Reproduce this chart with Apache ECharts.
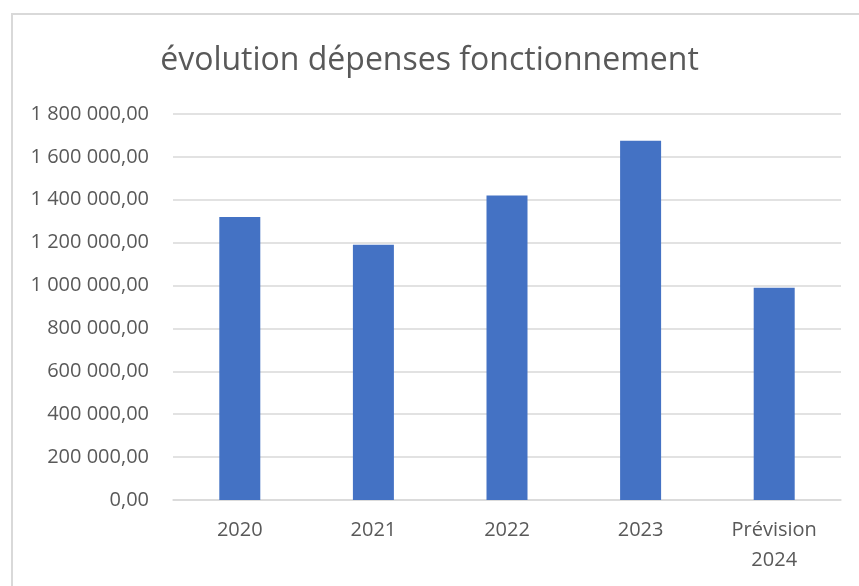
<!DOCTYPE html>
<html>
<head>
<meta charset="utf-8">
<script src="https://cdn.jsdelivr.net/npm/echarts@6/dist/echarts.min.js"></script>
<style>
    html, body { margin: 0; padding: 0; background: #fff; }
    #frame { position: absolute; left: 11px; top: 13px; width: 900px; height: 620px; border: 2px solid #d9d9d9; box-sizing: border-box; }
    #chart { position: absolute; left: 0; top: 0; width: 859px; height: 586px; }
</style>
</head>
<body>
<div id="frame"></div>
<div id="chart"></div>
<script>
// données
const categories = ['2020', '2021', '2022', '2023', 'Prévision\n2024']
const depenses = [1320000, 1190000, 1420000, 1675000, 990000]

// format "1 800 000,00"
function formatEuro(v) {
    let parts = v.toFixed(2).split('.')
    let ent = parts[0].replace(/\B(?=(\d{3})+(?!\d))/g, ' ')
    return ent + ',' + parts[1]
}

const myChart = echarts.init(document.getElementById('chart'))

const option = {
    animation: false,
    title: {
        text: 'évolution dépenses fonctionnement',
        left: 'center',
        top: 40,
        textStyle: {
            fontFamily: 'Open Sans',
            fontSize: 32,
            fontWeight: 'normal',
            color: '#595959'
        }
    },
    grid: {
        left: 173,
        right: 18,
        top: 114,
        bottom: 86
    },
    xAxis: {
        type: 'category',
        data: categories,
        axisLine: { lineStyle: { color: '#d9d9d9', width: 1.5 } },
        axisTick: { show: false },
        axisLabel: {
            color: '#595959',
            fontFamily: 'Open Sans',
            fontSize: 20,
            margin: 15,
            lineHeight: 30
        }
    },
    yAxis: {
        type: 'value',
        min: 0,
        max: 1800000,
        interval: 200000,
        axisLine: { show: false },
        axisTick: { show: false },
        splitLine: { lineStyle: { color: '#d9d9d9', width: 1.5 } },
        axisLabel: {
            color: '#595959',
            fontFamily: 'Open Sans',
            fontSize: 20,
            margin: 24,
            formatter: formatEuro
        }
    },
    series: [{
        type: 'bar',
        data: depenses,
        barWidth: 41,
        itemStyle: { color: '#4472c4' }
    }]
}

option && myChart.setOption(option, true)
</script>
</body>
</html>
